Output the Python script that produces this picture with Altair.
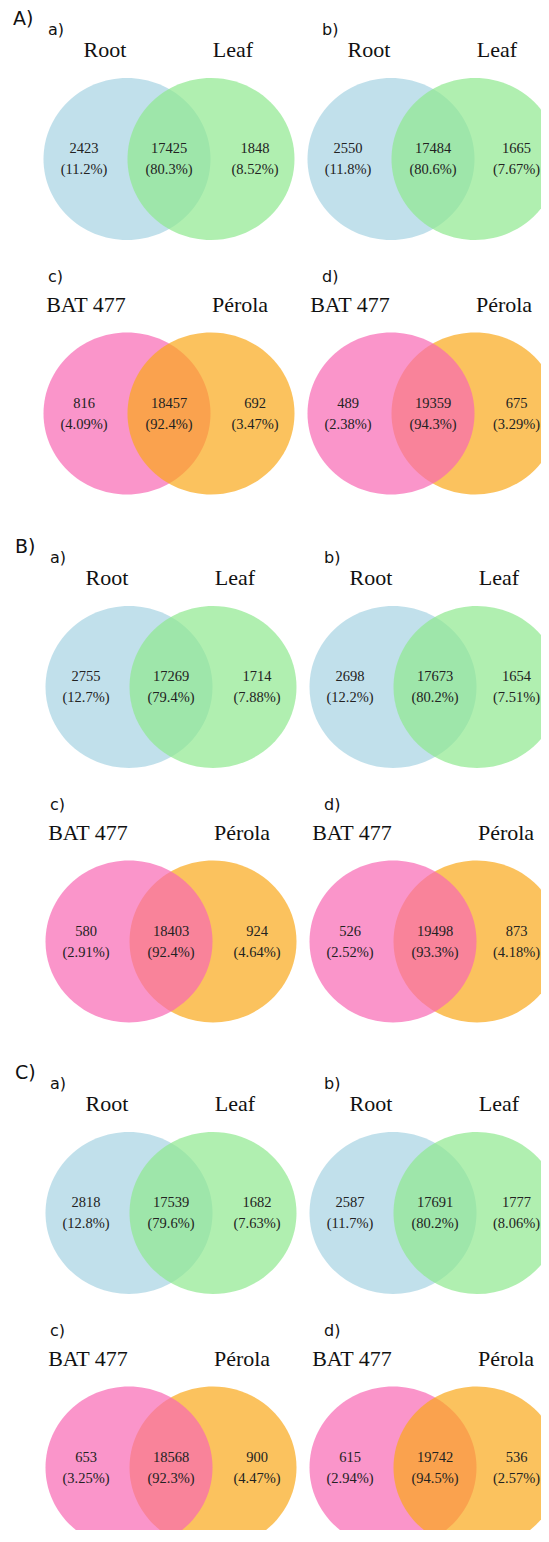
import altair as alt
import pandas as pd

# ---------------- data ----------------
SECTIONS = ["A)", "B)", "C)"]
PANELS = ["a)", "b)", "c)", "d)"]
SET_NAMES = [["Root", "Leaf"], ["Root", "Leaf"], ["BAT 477", "Pérola"], ["BAT 477", "Pérola"]]

COUNTS_A = [[2423, 17425, 1848], [2550, 17484, 1665], [816, 18457, 692], [489, 19359, 675]]
COUNTS_B = [[2755, 17269, 1714], [2698, 17673, 1654], [580, 18403, 924], [526, 19498, 873]]
COUNTS_C = [[2818, 17539, 1682], [2587, 17691, 1777], [653, 18568, 900], [615, 19742, 536]]

PCT_A = [["11.2%", "80.3%", "8.52%"], ["11.8%", "80.6%", "7.67%"], ["4.09%", "92.4%", "3.47%"], ["2.38%", "94.3%", "3.29%"]]
PCT_B = [["12.7%", "79.4%", "7.88%"], ["12.2%", "80.2%", "7.51%"], ["2.91%", "92.4%", "4.64%"], ["2.52%", "93.3%", "4.18%"]]
PCT_C = [["12.8%", "79.6%", "7.63%"], ["11.7%", "80.2%", "8.06%"], ["3.25%", "92.3%", "4.47%"], ["2.94%", "94.5%", "2.57%"]]

# which circle is drawn on top (0 = left, 1 = right)
TOP_A = [1, 1, 1, 0]
TOP_B = [1, 1, 0, 0]
TOP_C = [1, 1, 0, 1]

COUNTS = [COUNTS_A, COUNTS_B, COUNTS_C]
PCTS = [PCT_A, PCT_B, PCT_C]
TOPS = [TOP_A, TOP_B, TOP_C]

# ---------------- layout (page pixel coordinates) ----------------
W, H = 533, 1522
SEC_DY = [0, 528, 1054]
SEC_DX = [0, 2, 2]
COL_CX = [127, 391]
ROW_CY = [159, 413.5]
DIST = 84
RX = 83.5
COLORS = [["#A6D3E3", "#8EE88E"], ["#A6D3E3", "#8EE88E"], ["#F868B4", "#F9A81A"], ["#F868B4", "#F9A81A"]]
NAME_DX = [[-22, 22], [-22, 22], [-41, 29], [-41, 29]]
PANEL_X = [48, 322]
PANEL_DY = [-129, -137]
RIGHT_LIMIT = 516.5

circles, sec_lab, pan_lab, names, nums = [], [], [], [], []
for s in range(3):
    dx, dy = SEC_DX[s], SEC_DY[s]
    sec_lab.append({"x": 13 + dx, "y": 19 + dy, "t": SECTIONS[s]})
    for p in range(4):
        row, col = p // 2, p % 2
        cxl = COL_CX[col] + dx
        cxr = cxl + DIST
        cy = ROW_CY[row] + dy
        pan_lab.append({"x": PANEL_X[col] + dx, "y": cy + PANEL_DY[row], "t": PANELS[p]})
        order = [0, 1] if TOPS[s][p] == 1 else [1, 0]
        for i in order:
            circles.append({"x": [cxl, cxr][i], "y": cy, "fill": COLORS[p][i]})
        for i in range(2):
            names.append({"x": [cxl, cxr][i] + NAME_DX[p][i], "y": cy - 109, "t": SET_NAMES[p][i]})
        xs = [cxl - 43, (cxl + cxr) / 2, min(cxr + 44, RIGHT_LIMIT)]
        for k in range(3):
            nums.append({"x": xs[k], "y": cy - 10, "t": str(COUNTS[s][p][k])})
            nums.append({"x": xs[k], "y": cy + 11, "t": "(" + PCTS[s][p][k] + ")"})

xs_ = alt.Scale(domain=[8, 8 + W], nice=False, zero=False)
ys_ = alt.Scale(domain=[8 + H, 8], nice=False, zero=False)


def enc(ch):
    return ch.encode(
        x=alt.X("x:Q", scale=xs_, axis=None),
        y=alt.Y("y:Q", scale=ys_, axis=None),
    )


ellipse = "M -1 0 A 1 0.97 0 1 1 1 0 A 1 0.97 0 1 1 -1 0 Z"
circ = enc(alt.Chart(pd.DataFrame(circles)).mark_point(
    shape=ellipse, filled=True, size=(2 * RX) ** 2, opacity=0.7, strokeWidth=0, clip=True
)).encode(color=alt.Color("fill:N", scale=None))

sec = enc(alt.Chart(pd.DataFrame(sec_lab)).mark_text(
    font="DejaVu Sans", fontSize=19, align="left", baseline="middle", color="#111"
)).encode(text="t:N")
pan = enc(alt.Chart(pd.DataFrame(pan_lab)).mark_text(
    font="DejaVu Sans", fontSize=16, align="left", baseline="middle", color="#111"
)).encode(text="t:N")
nm = enc(alt.Chart(pd.DataFrame(names)).mark_text(
    font="Liberation Serif", fontSize=22, align="center", baseline="middle", color="#111"
)).encode(text="t:N")
nu = enc(alt.Chart(pd.DataFrame(nums)).mark_text(
    font="Liberation Serif", fontSize=14.5, align="center", baseline="middle", color="#222"
)).encode(text="t:N")

chart = alt.layer(circ, sec, pan, nm, nu).properties(
    width=W, height=H, autosize="none", padding=0, background="white"
).configure_view(strokeWidth=0)

chart.save("out.html", embed_options={"renderer": "svg", "actions": False})
